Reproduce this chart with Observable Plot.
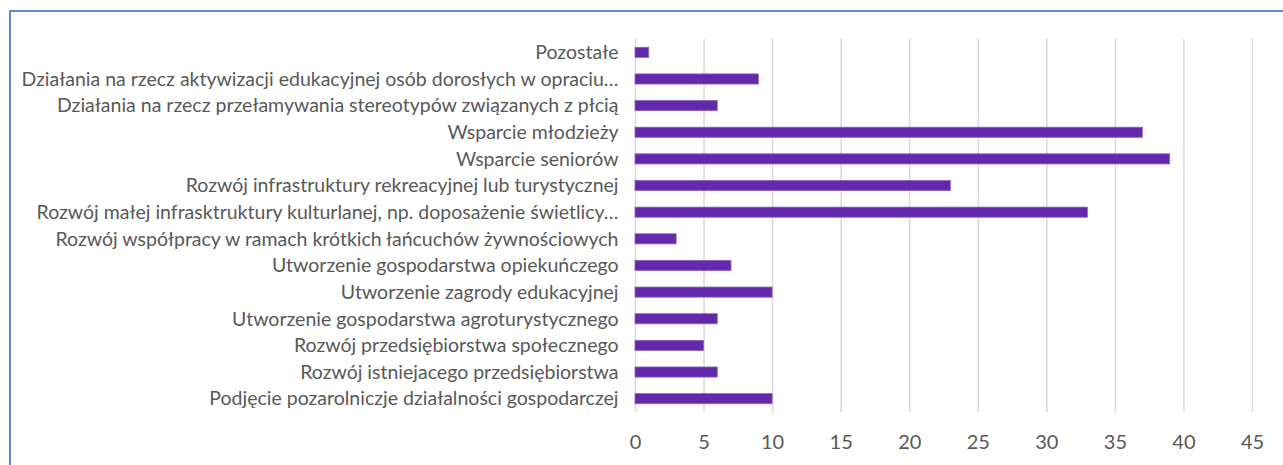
<!DOCTYPE html>
<html>
<head>
<meta charset="utf-8">
<script src="https://cdn.jsdelivr.net/npm/d3@7"></script>
<script src="https://cdn.jsdelivr.net/npm/@observablehq/plot@0.6"></script>
<style>
  html, body { margin: 0; padding: 0; background: #fff; overflow: hidden; }
  #wrap { position: relative; width: 1283px; height: 465px; }
  #frame { position: absolute; left: 9px; top: 10px; width: 1300px; height: 480px;
           border-left: 2px solid #5b8dd3; border-top: 2px solid #5b8dd3; box-sizing: border-box; }
  #chart { position: absolute; left: 0; top: 0; }
  #chart svg g[aria-label="x-axis tick label"] text { font-size: 20px; }
</style>
</head>
<body>
<div id="wrap">
  <div id="frame"></div>
  <div id="chart"></div>
</div>
<script>
const categories = [
  "Pozostałe",
  "Działania na rzecz aktywizacji edukacyjnej osób dorosłych w opraciu…",
  "Działania na rzecz przełamywania stereotypów związanych z płcią",
  "Wsparcie młodzieży",
  "Wsparcie seniorów",
  "Rozwój infrastruktury rekreacyjnej lub turystycznej",
  "Rozwój małej infrasktruktury kulturlanej, np. doposażenie świetlicy…",
  "Rozwój współpracy w ramach krótkich łańcuchów żywnościowych",
  "Utworzenie gospodarstwa opiekuńczego",
  "Utworzenie zagrody edukacyjnej",
  "Utworzenie gospodarstwa agroturystycznego",
  "Rozwój przedsiębiorstwa społecznego",
  "Rozwój istniejacego przedsiębiorstwa",
  "Podjęcie pozarolniczje działalności gospodarczej"
];
const values = [1, 9, 6, 37, 39, 23, 33, 3, 7, 10, 6, 5, 6, 10];
const xTicks = [0, 5, 10, 15, 20, 25, 30, 35, 40, 45];

const data = categories.map((c, i) => ({category: c, value: values[i]}));

const chart = Plot.plot({
  width: 1283,
  height: 465,
  marginLeft: 635,
  marginRight: 31,
  marginTop: 39,
  marginBottom: 53,
  style: {fontFamily: "Lato, 'Open Sans', sans-serif", fontSize: "19.5px", color: "#595959", background: "transparent"},
  x: {domain: [0, 45], ticks: xTicks, label: null, tickSize: 0, tickPadding: 22, tickFormat: d => String(d)},
  y: {domain: categories, label: null, tickSize: 0, tickPadding: 17, paddingInner: 0.62, paddingOuter: 0.31, round: false},
  marks: [
    Plot.ruleX(xTicks, {stroke: "#d9d9d9", strokeWidth: 1.5}),
    Plot.barX(data, {x: "value", y: "category", fill: "#6429a8", stroke: "#8c63c7", strokeWidth: 0.8})
  ]
});
document.getElementById("chart").appendChild(chart);
</script>
</body>
</html>
